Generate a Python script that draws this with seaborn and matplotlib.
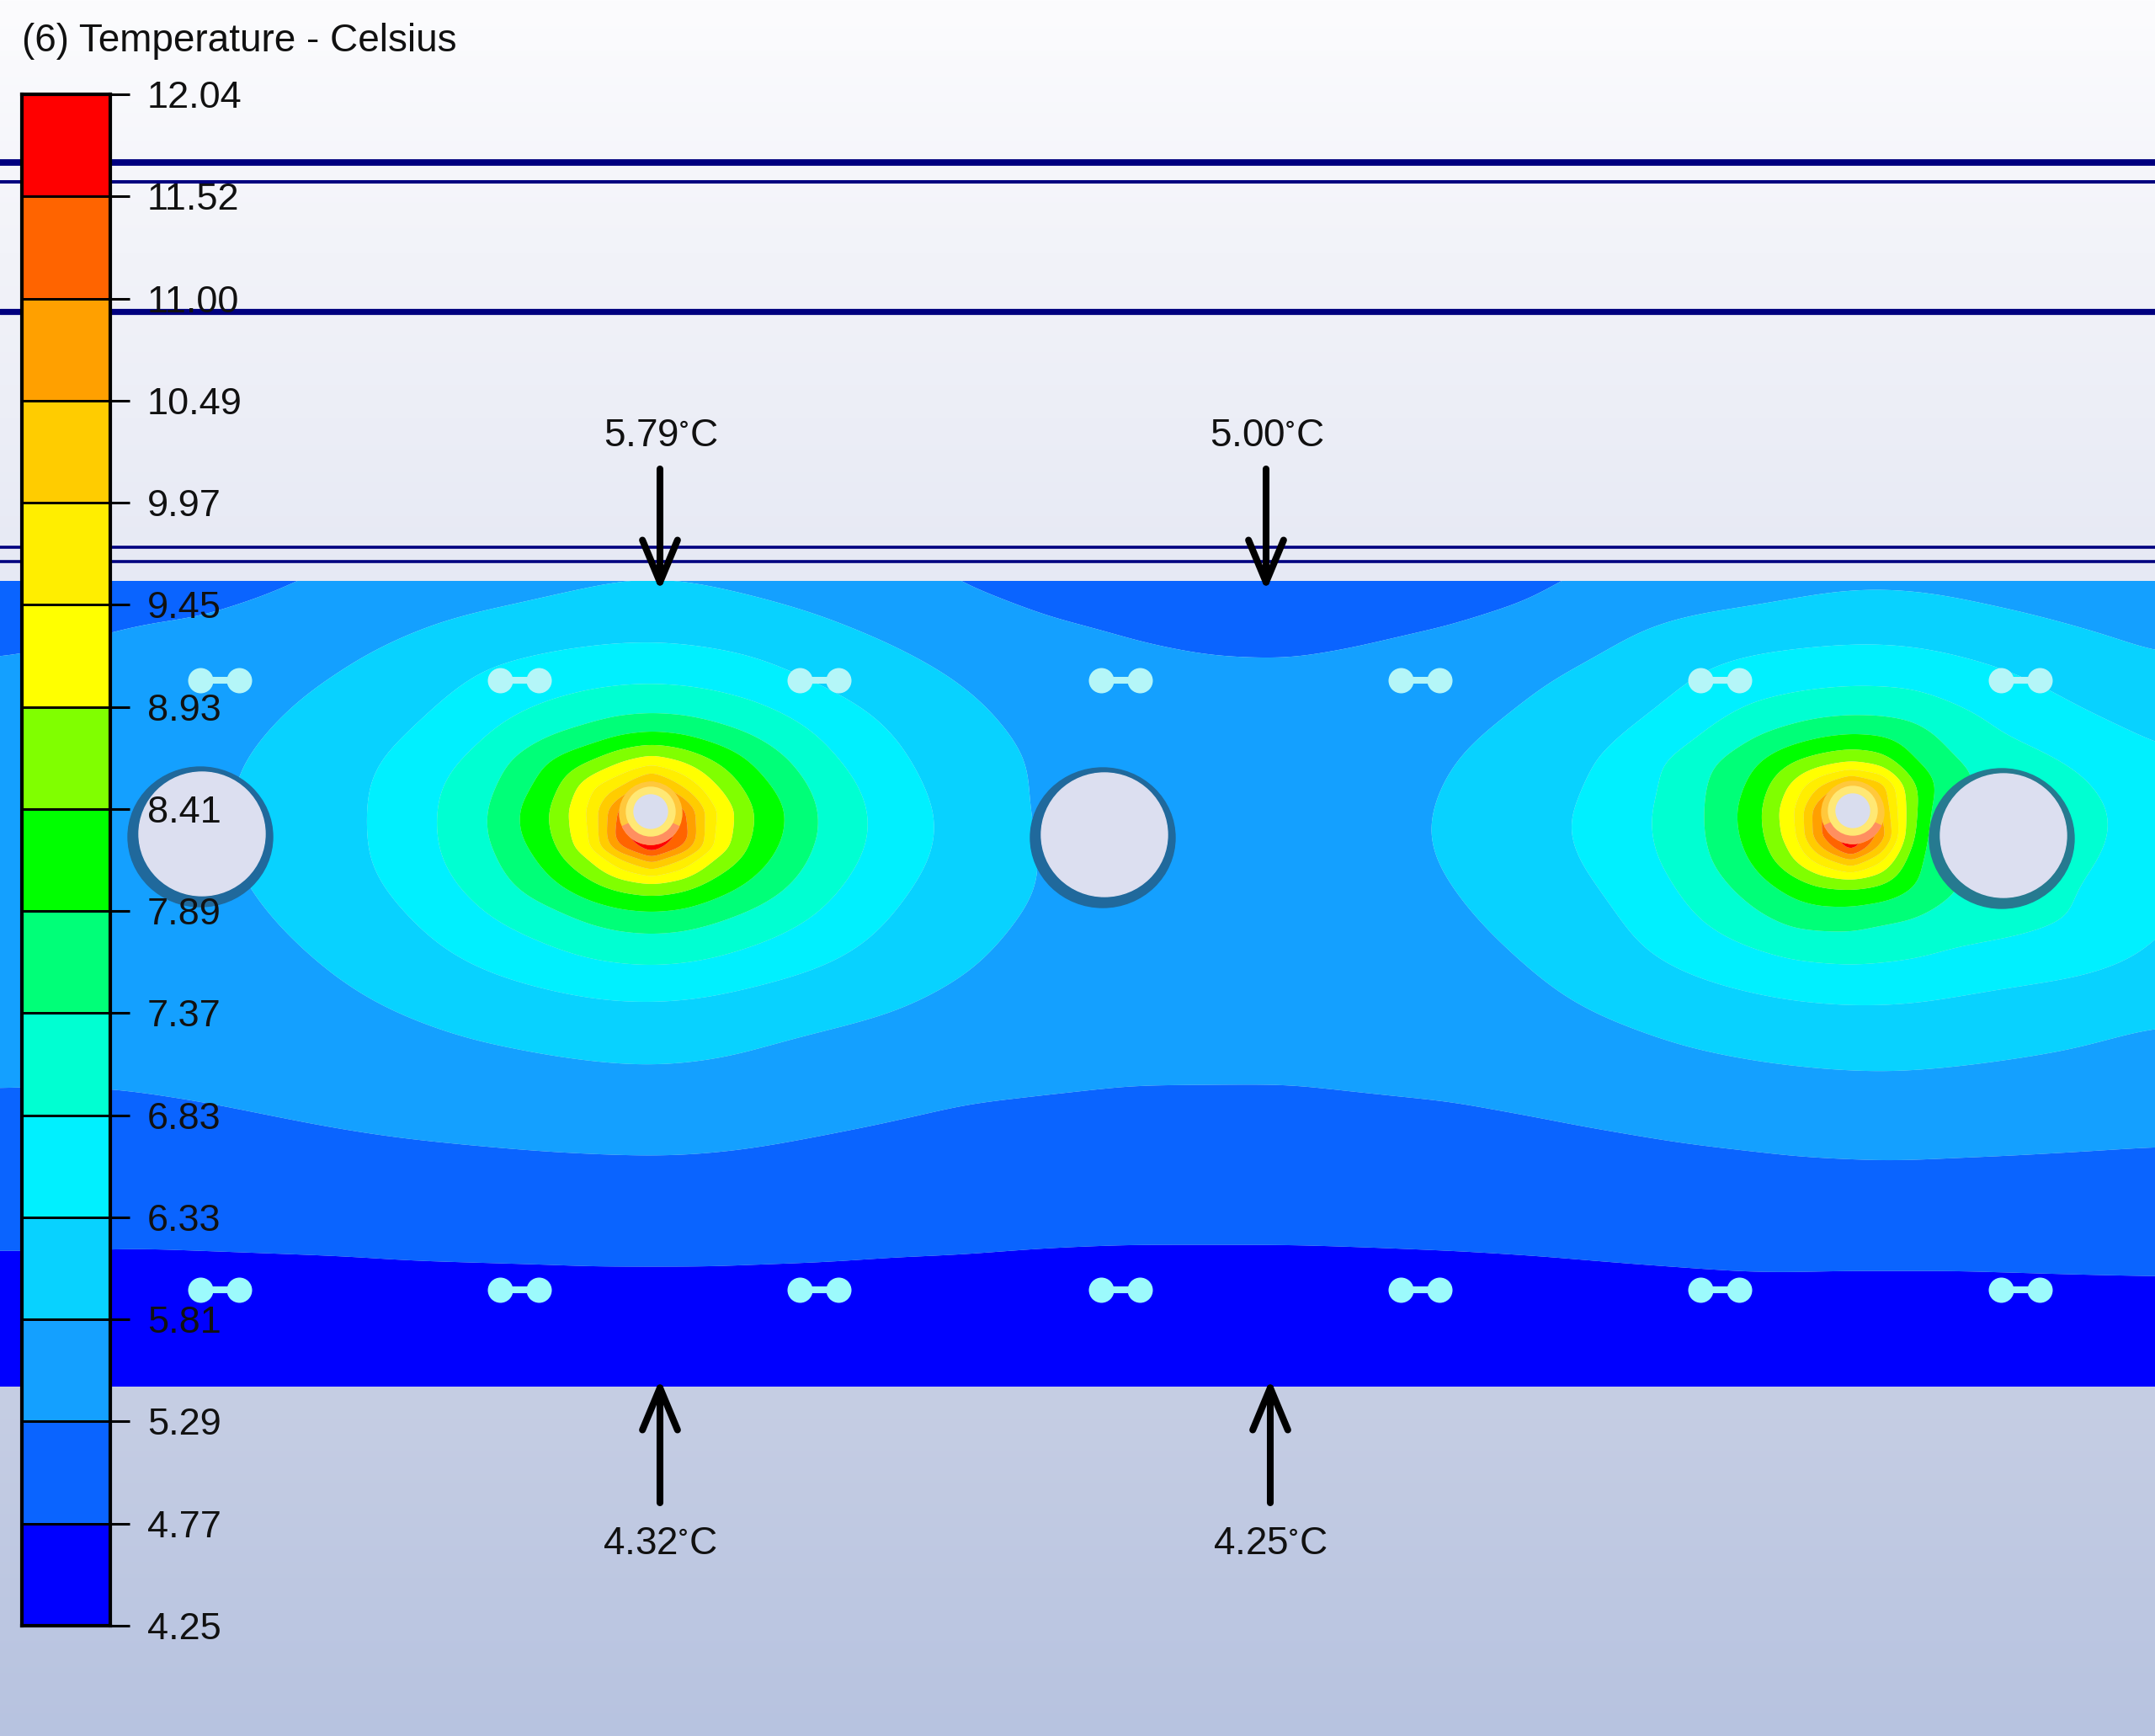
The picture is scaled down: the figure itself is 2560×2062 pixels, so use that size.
import matplotlib
matplotlib.use('Agg')
import matplotlib.pyplot as plt
from matplotlib.colors import ListedColormap, to_rgb
from matplotlib.patches import Ellipse, Wedge
import numpy as np
import seaborn as sns

sns.set_theme(style='white')
plt.rcParams['font.family'] = ['Liberation Sans', 'DejaVu Sans']
plt.rcParams['mathtext.default'] = 'regular'

W, H = 2560, 2062

# colour scale, bottom to top
tick_labels = ['4.25', '4.77', '5.29', '5.81', '6.33', '6.83', '7.37', '7.89',
               '8.41', '8.93', '9.45', '9.97', '10.49', '11.00', '11.52', '12.04']
levels = [float(t) for t in tick_labels]
band_colors = ['#0000ff', '#0a64ff', '#14a0ff', '#08d2ff', '#00f0ff', '#00ffd2', '#00ff78', '#00ff00',
               '#80ff00', '#ffff00', '#ffee00', '#ffcc00', '#ffa000', '#ff6400', '#ff0000']

col_px = [0, 82, 163, 245, 327, 408, 490, 571, 653, 702, 738, 774, 810, 846, 895, 980, 1061, 1143, 1241,
          1339, 1437, 1535, 1633, 1731, 1829, 1927, 2008, 2082, 2131, 2163, 2199, 2235, 2270, 2318, 2377, 2465, 2560]
row_px = [690, 735, 784, 833, 873, 906, 934, 963, 993, 1006, 1020, 1053, 1094, 1143, 1208, 1273, 1339, 1404,
          1445, 1478, 1502, 1551, 1647]
temperature = [
    [5.05, 5.12, 5.18, 5.20, 5.22, 5.27, 5.40, 5.50, 5.62, 5.68, 5.71, 5.72, 5.71, 5.69, 5.63, 5.50, 5.33, 5.22, 5.12, 5.06, 5.01, 5.00, 5.03, 5.10, 5.22, 5.28, 5.35, 5.45, 5.55, 5.60, 5.63, 5.64, 5.63, 5.60, 5.50, 5.40, 5.36],
    [5.20, 5.23, 5.27, 5.27, 5.36, 5.58, 5.73, 5.87, 6.00, 6.07, 6.10, 6.12, 6.10, 6.06, 6.00, 5.86, 5.68, 5.46, 5.30, 5.24, 5.16, 5.15, 5.22, 5.27, 5.33, 5.70, 5.90, 6.00, 6.05, 6.08, 6.10, 6.10, 6.08, 6.03, 5.95, 5.78, 5.62],
    [5.30, 5.33, 5.38, 5.45, 5.60, 5.77, 5.98, 6.30, 6.42, 6.46, 6.48, 6.48, 6.46, 6.42, 6.34, 6.05, 5.88, 5.70, 5.48, 5.36, 5.34, 5.34, 5.36, 5.43, 5.72, 5.92, 6.25, 6.38, 6.42, 6.44, 6.46, 6.46, 6.44, 6.36, 6.25, 6.05, 5.85],
    [5.38, 5.42, 5.48, 5.58, 5.74, 5.95, 6.20, 6.50, 6.80, 6.95, 7.02, 7.05, 7.02, 6.95, 6.80, 6.45, 6.15, 5.87, 5.60, 5.42, 5.35, 5.33, 5.38, 5.60, 5.85, 6.10, 6.42, 6.78, 6.90, 6.96, 7.00, 7.00, 6.98, 6.80, 6.62, 6.30, 6.05],
    [5.45, 5.50, 5.56, 5.66, 5.84, 6.10, 6.32, 6.75, 7.33, 7.60, 7.85, 7.95, 7.87, 7.65, 7.35, 6.75, 6.33, 6.00, 5.68, 5.48, 5.40, 5.38, 5.47, 5.75, 6.00, 6.30, 6.70, 7.30, 7.60, 7.80, 7.90, 7.85, 7.65, 7.20, 6.80, 6.50, 6.30],
    [5.48, 5.53, 5.60, 5.70, 5.90, 6.15, 6.52, 7.00, 7.95, 8.45, 8.95, 9.30, 8.97, 8.50, 7.85, 6.95, 6.42, 6.05, 5.78, 5.52, 5.43, 5.40, 5.52, 5.83, 6.08, 6.55, 7.10, 7.80, 8.45, 8.70, 8.90, 8.70, 7.95, 7.45, 7.20, 6.80, 6.40],
    [5.50, 5.55, 5.62, 5.73, 5.95, 6.20, 6.60, 7.15, 8.15, 9.35, 9.97, 10.90, 9.97, 9.05, 8.15, 7.15, 6.52, 6.10, 5.72, 5.55, 5.45, 5.42, 5.55, 5.88, 6.12, 6.45, 7.15, 8.00, 9.10, 10.00, 10.90, 10.20, 8.60, 7.50, 7.25, 6.95, 6.45],
    [5.50, 5.56, 5.65, 5.70, 5.97, 6.18, 6.60, 7.26, 8.41, 9.60, 11.20, 12.00, 11.20, 9.60, 8.41, 7.26, 6.60, 6.18, 5.70, 5.55, 5.46, 5.43, 5.58, 5.92, 6.20, 6.60, 7.15, 8.15, 9.40, 11.00, 12.00, 10.50, 8.60, 7.20, 7.30, 7.10, 6.50],
    [5.50, 5.56, 5.65, 5.70, 5.97, 6.18, 6.60, 7.26, 8.35, 9.50, 11.40, 12.00, 11.40, 9.50, 8.35, 7.26, 6.60, 6.18, 5.75, 5.55, 5.46, 5.44, 5.60, 5.95, 6.20, 6.60, 7.15, 8.10, 9.30, 11.00, 12.00, 10.80, 8.50, 7.10, 7.20, 7.10, 6.50],
    [5.50, 5.56, 5.64, 5.72, 5.96, 6.19, 6.60, 7.20, 8.20, 9.50, 11.00, 12.00, 11.00, 9.50, 8.25, 7.20, 6.58, 6.16, 5.76, 5.54, 5.46, 5.44, 5.59, 5.92, 6.18, 6.58, 7.12, 8.02, 9.10, 10.50, 11.90, 10.30, 8.30, 7.20, 7.20, 7.05, 6.48],
    [5.50, 5.55, 5.62, 5.73, 5.95, 6.20, 6.60, 7.15, 8.10, 8.95, 10.00, 10.80, 10.00, 8.95, 8.15, 7.15, 6.55, 6.15, 5.78, 5.53, 5.45, 5.43, 5.58, 5.90, 6.15, 6.55, 7.10, 7.95, 8.95, 9.80, 10.60, 9.60, 8.10, 7.35, 7.20, 7.00, 6.45],
    [5.48, 5.52, 5.58, 5.68, 5.90, 6.12, 6.50, 7.00, 7.75, 8.25, 8.55, 8.70, 8.55, 8.20, 7.75, 6.97, 6.42, 6.08, 5.80, 5.50, 5.43, 5.41, 5.55, 5.83, 6.08, 6.42, 6.95, 7.60, 8.10, 8.35, 8.38, 8.30, 7.95, 7.45, 7.10, 6.85, 6.35],
    [5.45, 5.48, 5.52, 5.60, 5.81, 6.00, 6.30, 6.72, 7.10, 7.40, 7.55, 7.60, 7.55, 7.40, 7.15, 6.70, 6.28, 5.98, 5.72, 5.46, 5.40, 5.38, 5.48, 5.75, 6.00, 6.30, 6.75, 7.20, 7.50, 7.55, 7.55, 7.40, 7.33, 7.10, 7.05, 6.85, 6.30],
    [5.42, 5.45, 5.48, 5.55, 5.70, 5.88, 6.12, 6.37, 6.62, 6.76, 6.82, 6.85, 6.82, 6.75, 6.60, 6.35, 6.10, 5.88, 5.62, 5.42, 5.37, 5.35, 5.43, 5.62, 5.86, 6.20, 6.42, 6.62, 6.76, 6.80, 6.84, 6.82, 6.78, 6.68, 6.58, 6.48, 6.30],
    [5.37, 5.38, 5.41, 5.47, 5.55, 5.67, 5.81, 5.95, 6.03, 6.08, 6.10, 6.10, 6.08, 6.05, 5.97, 5.88, 5.78, 5.62, 5.47, 5.38, 5.36, 5.35, 5.40, 5.48, 5.65, 5.84, 6.00, 6.08, 6.12, 6.14, 6.16, 6.16, 6.16, 6.12, 6.05, 5.95, 5.82],
    [5.34, 5.33, 5.34, 5.37, 5.41, 5.47, 5.55, 5.63, 5.71, 5.74, 5.76, 5.77, 5.76, 5.74, 5.70, 5.55, 5.45, 5.38, 5.36, 5.34, 5.34, 5.34, 5.36, 5.38, 5.44, 5.55, 5.66, 5.74, 5.77, 5.79, 5.80, 5.81, 5.80, 5.78, 5.75, 5.70, 5.60],
    [5.20, 5.20, 5.21, 5.23, 5.27, 5.31, 5.35, 5.38, 5.41, 5.42, 5.43, 5.44, 5.43, 5.42, 5.39, 5.33, 5.28, 5.23, 5.20, 5.18, 5.18, 5.18, 5.20, 5.22, 5.26, 5.31, 5.36, 5.40, 5.43, 5.44, 5.45, 5.46, 5.45, 5.44, 5.43, 5.41, 5.38],
    [4.99, 5.00, 5.01, 5.03, 5.05, 5.08, 5.10, 5.12, 5.14, 5.15, 5.15, 5.15, 5.15, 5.14, 5.12, 5.07, 5.03, 5.00, 4.98, 4.97, 4.97, 4.98, 5.00, 5.03, 5.06, 5.09, 5.12, 5.14, 5.16, 5.17, 5.17, 5.18, 5.18, 5.17, 5.16, 5.14, 5.13],
    [4.91, 4.91, 4.90, 4.91, 4.92, 4.93, 4.95, 4.97, 4.98, 4.99, 4.99, 4.99, 4.99, 4.99, 4.98, 4.95, 4.93, 4.92, 4.90, 4.885, 4.885, 4.885, 4.895, 4.91, 4.93, 4.96, 4.98, 5.00, 5.01, 5.01, 5.01, 5.02, 5.02, 5.01, 5.01, 5.01, 5.00],
    [4.80, 4.80, 4.79, 4.80, 4.81, 4.82, 4.84, 4.84, 4.85, 4.86, 4.86, 4.86, 4.86, 4.86, 4.85, 4.84, 4.82, 4.81, 4.79, 4.775, 4.775, 4.775, 4.785, 4.80, 4.82, 4.85, 4.87, 4.89, 4.89, 4.88, 4.88, 4.88, 4.88, 4.88, 4.89, 4.90, 4.90],
    [4.71, 4.71, 4.70, 4.71, 4.72, 4.73, 4.75, 4.76, 4.77, 4.775, 4.775, 4.775, 4.775, 4.775, 4.77, 4.76, 4.74, 4.73, 4.70, 4.69, 4.69, 4.69, 4.70, 4.71, 4.73, 4.76, 4.78, 4.80, 4.80, 4.795, 4.79, 4.79, 4.79, 4.79, 4.80, 4.81, 4.82],
    [4.56, 4.56, 4.55, 4.56, 4.57, 4.58, 4.59, 4.60, 4.60, 4.61, 4.61, 4.61, 4.61, 4.61, 4.60, 4.60, 4.59, 4.58, 4.55, 4.54, 4.54, 4.54, 4.55, 4.56, 4.58, 4.60, 4.62, 4.63, 4.63, 4.63, 4.63, 4.63, 4.63, 4.63, 4.63, 4.64, 4.65],
    [4.30, 4.30, 4.30, 4.30, 4.30, 4.31, 4.31, 4.31, 4.32, 4.32, 4.32, 4.32, 4.32, 4.32, 4.32, 4.31, 4.30, 4.29, 4.28, 4.26, 4.25, 4.25, 4.26, 4.27, 4.28, 4.29, 4.30, 4.30, 4.30, 4.30, 4.30, 4.30, 4.30, 4.30, 4.30, 4.30, 4.30],
]

# probes: value, x of arrow, pointing down from above the slab or up from below
top_probes = [('5.79$^{\\circ}$C', 784), ('5.00$^{\\circ}$C', 1504)]
bottom_probes = [('4.32$^{\\circ}$C', 784), ('4.25$^{\\circ}$C', 1509)]

# structure of the section
layer_lines = [(193, 5.6), (216, 2.9), (370, 5.2), (650, 2.6), (667, 2.6)]
pipes = [(238, 994), (1310, 995), (2378, 996)]
heaters = [(773, 964), (2201, 963)]
clip_x = [261, 617, 973, 1331, 1687, 2043, 2400]
clip_rows = [(808, '#b4f6f8'), (1532, '#9cfafc')]

bg_stops = [0, 300, 690, 1647, 2062]
bg_colors = ['#fcfcfe', '#f2f3f9', '#e6e9f4', '#c6cee4', '#b7c3e0']


def blur(a, sigma, step):
    # separable gaussian, edges held
    half = int(3 * sigma / step)
    k = np.exp(-0.5 * (np.arange(-half, half + 1) * step / sigma) ** 2)
    k /= k.sum()
    for axis in (0, 1):
        pad = [(half, half) if i == axis else (0, 0) for i in range(2)]
        p = np.pad(a, pad, mode='edge')
        a = np.apply_along_axis(lambda v: np.convolve(v, k, mode='valid'), axis, p)
    return a


fig = plt.figure(figsize=(W / 100, H / 100), dpi=100)
ax = fig.add_axes([0, 0, 1, 1])

# backdrop
rgb = np.array([to_rgb(c) for c in bg_colors])
ys = np.arange(H)
grad = np.stack([np.interp(ys, bg_stops, rgb[:, i]) for i in range(3)], axis=1)[:, None, :]
ax.imshow(grad, extent=[0, W, H, 0], aspect='auto', zorder=0)

for y, lw in layer_lines:
    ax.axhline(y, color='#00007f', lw=lw, zorder=1)

# resample the table on a fine mesh, then smooth: wide in the cool bands, tight near the heaters
step = 3
xf = np.arange(0, W + step, step)
yf = np.arange(row_px[0], row_px[-1] + 1, step)
table = np.array(temperature)
fine = np.array([np.interp(xf, col_px, row) for row in table])
fine = np.array([np.interp(yf, row_px, fine[:, j]) for j in range(fine.shape[1])]).T
wide, mid, tight = blur(fine, 30, step), blur(fine, 12, step), blur(fine, 5, step)
w_mid = np.clip((mid - 6.3) / 1.2, 0, 1)
w_tight = np.clip((tight - 8.5) / 1.2, 0, 1)
smooth = wide * (1 - w_mid) + mid * w_mid
smooth = smooth * (1 - w_tight) + tight * w_tight
ax.contourf(xf, yf, np.clip(smooth, levels[0], levels[-1]), levels=levels, colors=band_colors,
            antialiased=True, zorder=2)

# pipes and heaters
for i, (x, y) in enumerate(pipes):
    ring = '#267a90' if i == 2 else '#20699c'
    ax.add_patch(Ellipse((x, y), 172, 166, color=ring, zorder=3))
    ax.add_patch(Ellipse((x + 2, y - 3.5), 150, 147, color='#dcdff0', zorder=4))
for x, y in heaters:
    ax.add_patch(Ellipse((x, y + 2), 74, 74, color='#ffc83c', zorder=3))
    ax.add_patch(Wedge((x, y + 2), 37, 25, 155, color='#ff8f60', zorder=3))
    ax.add_patch(Ellipse((x, y), 58, 58, color='#ffe874', zorder=4))
    ax.add_patch(Ellipse((x, y), 40, 40, color='#d9ddee', zorder=5))

# clips
for y, c in clip_rows:
    for x in clip_x:
        ax.plot([x - 23, x + 23], [y, y], color=c, lw=5.8, zorder=3, solid_capstyle='butt')
    ax.scatter([x - 23 for x in clip_x], [y] * len(clip_x), s=467, color=c, lw=0, zorder=4)
    ax.scatter([x + 23 for x in clip_x], [y] * len(clip_x), s=467, color=c, lw=0, zorder=4)

# probes
style = '->,head_length=3.6,head_width=1.5'
for label, x in top_probes:
    ax.annotate('', xy=(x, 702), xytext=(x, 557), zorder=6,
                arrowprops=dict(arrowstyle=style, lw=5.8, color='black', shrinkA=0, shrinkB=0, mutation_scale=10))
    ax.text(x + 1, 518, label, ha='center', va='center', fontsize=33, color='#111111', zorder=6)
for label, x in bottom_probes:
    ax.annotate('', xy=(x, 1638), xytext=(x, 1785), zorder=6,
                arrowprops=dict(arrowstyle=style, lw=5.8, color='black', shrinkA=0, shrinkB=0, mutation_scale=10))
    ax.text(x, 1834, label, ha='center', va='center', fontsize=33, color='#111111', zorder=6)

ax.set_xlim(0, W)
ax.set_ylim(H, 0)
ax.axis('off')

ax.text(26, 49, '(6) Temperature - Celsius', ha='left', va='center', fontsize=33, color='#111111', zorder=6)

# legend bar
cax = fig.add_axes([26 / W, 1 - 1931 / H, 105 / W, (1931 - 112) / H], zorder=5)
bands = np.arange(len(band_colors))[::-1].reshape(-1, 1)
sns.heatmap(bands, ax=cax, cmap=ListedColormap(band_colors), cbar=False, xticklabels=False,
            linewidths=2.0, linecolor='black')
cax.set_yticks(np.arange(len(tick_labels)))
cax.set_yticklabels(tick_labels[::-1], rotation=0, fontsize=32.5, color='#111111')
cax.yaxis.tick_right()
cax.tick_params(axis='y', length=16.5, width=2.2, color='black', pad=15, right=True, left=False)
for s in cax.spines.values():
    s.set_visible(True)
    s.set_color('black')
    s.set_linewidth(3)

fig.savefig('out.png', dpi=100)
